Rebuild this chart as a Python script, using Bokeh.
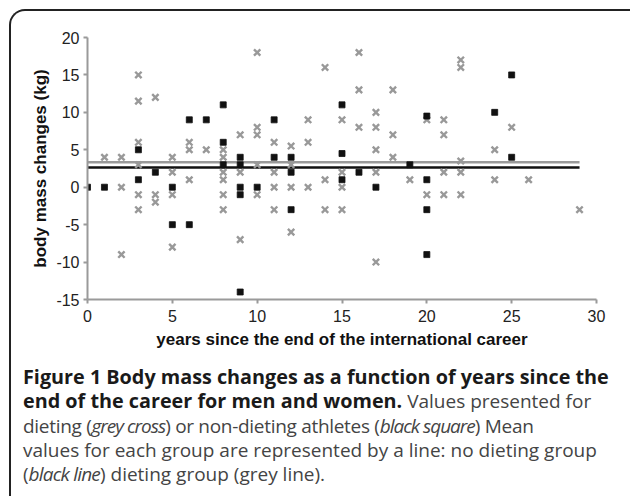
from bokeh.plotting import figure
from bokeh.models import Range1d, Div, FixedTicker, CustomJSTickFormatter
from bokeh.layouts import column
from bokeh.embed import file_html
from bokeh.resources import INLINE

# Dieting athletes (grey cross)
diet_years = [1, 2, 2, 2, 3, 3, 3, 3, 3, 3, 4, 4, 4, 5, 5, 5, 5, 6, 6, 6, 7,
              8, 8, 8, 8, 8, 8, 9, 9, 9, 10, 10, 10, 10, 10, 11, 11, 11, 11,
              12, 12, 12, 12, 13, 13, 13, 14, 14, 14, 15, 15, 15, 15,
              16, 16, 16, 17, 17, 17, 17, 17, 18, 18, 18, 19, 20, 20,
              21, 21, 21, 21, 22, 22, 22, 22, 22, 24, 24, 25, 26, 29]
diet_change = [4, 4, 0, -9, 15, 11.5, 6, 3, -1, -3, 12, -1, -2, 4, 2, -1, -8, 6, 5, 1, 5,
               5, 4, 2, 1, -1, -3, 7, 2, -7, 18, 8, 7, 3, -1, 6, 2, 0, -3,
               5.5, 3, 0, -6, 9, 6, 0, 16, 1, -3, 9, 2, 0, -3,
               18, 13, 8, 10, 8, 5, 2, -10, 13, 7, 4, 1, 9, -1,
               9, 7, 2, -1, 17, 16, 3.5, 2, -1, 5, 1, 8, 1, -3]

# Non-dieting athletes (black square)
nodiet_years = [0, 1, 3, 3, 4, 5, 5, 6, 6, 7, 8, 8, 8, 9, 9, 9, 9, 9, 10, 11, 11,
                12, 12, 12, 15, 15, 15, 16, 17, 19, 20, 20, 20, 20, 24, 25, 25]
nodiet_change = [0, 0, 5, 1, 2, 0, -5, 9, -5, 9, 11, 6, 3, 4, 3, 0, -1, -14, 0, 9, 4,
                 4, 2, -3, 11, 4.5, 1, 2, 0, 3, 9.5, 1, -3, -9, 10, 15, 4]

# Group means (horizontal lines)
mean_span_years = [0, 29]
mean_dieting = 3.35
mean_nodieting = 2.65

x_ticks = [0, 5, 10, 15, 20, 25, 30]
y_ticks = [-15, -10, -5, 0, 5, 10, 15, 20]

p = figure(width=616, height=349, output_backend="svg", toolbar_location=None,
           x_range=Range1d(0, 30), y_range=Range1d(-15, 20),
           min_border_left=76, min_border_right=31, min_border_top=26,
           min_border_bottom=61)
p.outline_line_color = None
p.grid.visible = False
p.background_fill_color = None
p.border_fill_color = None

for ax in (p.xaxis[0], p.yaxis[0]):
    ax.axis_line_color = "#9a9a9a"
    ax.axis_line_width = 2
    ax.major_tick_line_color = "#9a9a9a"
    ax.major_tick_line_width = 2
    ax.major_tick_out = 4
    ax.major_tick_in = 0
    ax.minor_tick_line_color = None
    ax.major_label_text_font = "Liberation Sans"
    ax.major_label_text_font_size = "16px"
    ax.major_label_text_color = "#222222"
    ax.axis_label_text_font = "Liberation Sans"
    ax.axis_label_text_font_style = "bold"
    ax.axis_label_text_font_size = "17px"
    ax.axis_label_text_color = "#111111"
    ax.formatter = CustomJSTickFormatter(code="return String(tick);")

p.xaxis.ticker = FixedTicker(ticks=x_ticks)
p.yaxis.ticker = FixedTicker(ticks=y_ticks)
p.xaxis.axis_label = "years since the end of the international career"
p.yaxis.axis_label = "body mass changes (kg)"
p.xaxis.major_label_standoff = 6
p.yaxis.major_label_standoff = 4
p.xaxis.axis_label_standoff = 5
p.yaxis.axis_label_standoff = 3

p.line(mean_span_years, [mean_dieting] * len(mean_span_years), line_color="#9a9a9a", line_width=2.5)
p.line(mean_span_years, [mean_nodieting] * len(mean_span_years), line_color="#111111", line_width=2.5)

p.scatter(diet_years, diet_change, marker="x", size=9, line_color="#999999", line_width=2.4)
p.scatter(nodiet_years, nodiet_change, marker="square", size=6, fill_color="#111111",
          line_color="#111111", line_width=0.8)

ital = 'style="letter-spacing:-0.8px"'
ital3 = 'style="letter-spacing:-1.0px"'
caption_html = (
    '<div style="font-family:\'Open Sans\';font-size:19px;line-height:24.3px;color:#444;'
    'white-space:nowrap;padding-left:7px;padding-top:0px;margin:0">'
    '<b style="color:#1a1a1a;font-size:19.8px">Figure 1 Body mass changes as a function of years since the<br>'
    'end of the career for men and women.</b> Values presented for<br>'
    f'<span style="letter-spacing:-0.3px">dieting (<i {ital3}>grey cross</i>) or non-dieting athletes '
    f'(<i {ital3}>black square</i>) Mean</span><br>'
    'values for each group are represented by a line: no dieting group<br>'
    f'(<i {ital}>black line</i>) dieting group (grey line).'
    '</div>'
)
cap = Div(text=caption_html, width=616, height=131)

layout = column(p, cap, styles={"border-top": "2px solid #222", "border-left": "2px solid #222",
                                "border-top-left-radius": "16px", "margin-left": "9px",
                                "margin-top": "9px"})

open("out.html", "w").write(file_html(layout, INLINE))
